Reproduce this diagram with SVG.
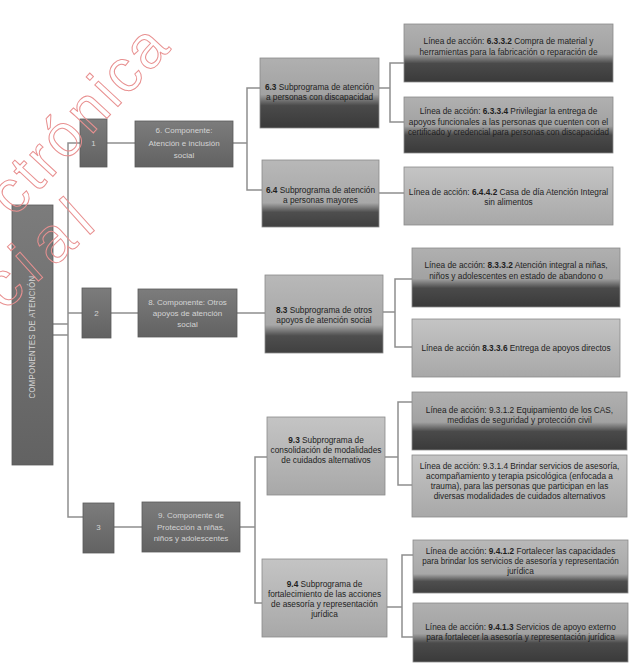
<svg xmlns="http://www.w3.org/2000/svg" width="630" height="664" viewBox="0 0 630 664">
<style>
  .conn { fill: none; stroke: #8e8e8e; stroke-width: 1.5; }
  .bx { stroke: #8a8a8a; stroke-width: 0.8; }
  .sq { fill: url(#gGray); stroke: #5a5a5a; stroke-width: 0.8; }
  .t { font-family: "Liberation Sans", Arial, sans-serif; font-size: 9.2px; fill: #1e1e1e; text-anchor: middle; }
  .tl { font-family: "Liberation Sans", Arial, sans-serif; font-size: 8px; fill: #d4d4d4; text-anchor: middle; }
  .b { font-weight: bold; }
  .wm { font-family: "Liberation Sans", Arial, sans-serif; font-size: 60px; fill: none; stroke: #e89090; stroke-width: 1; }
</style>
<defs>
  <linearGradient id="gGray" x1="0" y1="0" x2="0" y2="1">
    <stop offset="0" stop-color="#7c7c7c"/>
    <stop offset="1" stop-color="#626262"/>
  </linearGradient>
  <linearGradient id="gDark" x1="0" y1="0" x2="0" y2="1">
    <stop offset="0" stop-color="#b0b0b0"/>
    <stop offset="0.52" stop-color="#a2a2a2"/>
    <stop offset="0.68" stop-color="#4a4a4a"/>
    <stop offset="1" stop-color="#3a3a3a"/>
  </linearGradient>
  <linearGradient id="gDark2" x1="0" y1="0" x2="0" y2="1">
    <stop offset="0" stop-color="#b8b8b8"/>
    <stop offset="0.64" stop-color="#a8a8a8"/>
    <stop offset="0.78" stop-color="#4e4e4e"/>
    <stop offset="1" stop-color="#404040"/>
  </linearGradient>
  <linearGradient id="gLight" x1="0" y1="0" x2="0" y2="1">
    <stop offset="0" stop-color="#c4c4c4"/>
    <stop offset="1" stop-color="#a8a8a8"/>
  </linearGradient>
</defs>

<g id="connectors">
  <path class="conn" d="M80,143 H68 V517 H83"/>
  <path class="conn" d="M53,324 H68 M53,335 H68 M68,313 H82"/>
  <path class="conn" d="M107,143 H135"/>
  <path class="conn" d="M233,143 H247"/>
  <path class="conn" d="M260,88 H247 V190 H262"/>
  <path class="conn" d="M379,88 H390"/>
  <path class="conn" d="M404,63 H390 V122 H404"/>
  <path class="conn" d="M379,193 H404"/>
  <path class="conn" d="M111,313 H138"/>
  <path class="conn" d="M237,313 H265"/>
  <path class="conn" d="M383,312 H395"/>
  <path class="conn" d="M412,279 H395 V347 H412"/>
  <path class="conn" d="M114,527 H142"/>
  <path class="conn" d="M240,527 H255"/>
  <path class="conn" d="M267,457 H255 V603 H262"/>
  <path class="conn" d="M385,457 H398"/>
  <path class="conn" d="M412,402 H398 V485 H412"/>
  <path class="conn" d="M387,607 H402"/>
  <path class="conn" d="M413,555 H402 V637 H413"/>
</g>

<g id="root">
  <rect class="sq" x="12" y="205" width="41" height="260"/>
  <text class="tl" transform="translate(35,337) rotate(-90) scale(0.85,1)" style="font-size:9px;letter-spacing:0.5px">COMPONENTES DE ATENCIÓN</text>
</g>

<g id="n1">
  <rect class="sq" x="80" y="119" width="27" height="48"/>
  <text class="tl" x="93.5" y="146">1</text>
</g>
<g id="c6">
  <rect class="sq" x="135" y="121" width="98" height="46"/>
  <text class="tl" x="184" y="133">6. Componente:</text>
  <text class="tl" x="184" y="146">Atención e inclusión</text>
  <text class="tl" x="184" y="158">social</text>
</g>
<g id="n2">
  <rect class="sq" x="82" y="288" width="29" height="50"/>
  <text class="tl" x="96.5" y="316">2</text>
</g>
<g id="c8">
  <rect class="sq" x="138" y="289" width="99" height="48"/>
  <text class="tl" x="187.5" y="305">8. Componente: Otros</text>
  <text class="tl" x="187.5" y="316">apoyos de atención</text>
  <text class="tl" x="187.5" y="327">social</text>
</g>
<g id="n3">
  <rect class="sq" x="83" y="503" width="31" height="50"/>
  <text class="tl" x="98.5" y="530">3</text>
</g>
<g id="c9">
  <rect class="sq" x="142" y="502" width="98" height="50"/>
  <text class="tl" x="191" y="518">9. Componente de</text>
  <text class="tl" x="191" y="530">Protección a niñas,</text>
  <text class="tl" x="191" y="541">niños y adolescentes</text>
</g>

<g id="s63">
  <rect class="bx" x="260" y="58" width="119" height="70" fill="url(#gDark)"/>
  <text class="t" transform="translate(319.5,90) scale(0.9,1)"><tspan class="b">6.3</tspan> Subprograma de atención</text>
  <text class="t" transform="translate(319.5,100) scale(0.9,1)">a personas con discapacidad</text>
</g>
<g id="s64">
  <rect class="bx" x="262" y="160" width="117" height="67" fill="url(#gDark2)"/>
  <text class="t" transform="translate(320.5,193) scale(0.9,1)"><tspan class="b">6.4</tspan> Subprograma de atención</text>
  <text class="t" transform="translate(320.5,203) scale(0.9,1)">a personas mayores</text>
</g>
<g id="s83">
  <rect class="bx" x="265" y="275" width="118" height="78" fill="url(#gDark2)"/>
  <text class="t" transform="translate(324,313) scale(0.9,1)"><tspan class="b">8.3</tspan> Subprograma de otros</text>
  <text class="t" transform="translate(324,323) scale(0.9,1)">apoyos de atención social</text>
</g>
<g id="s93">
  <rect class="bx" x="267" y="417" width="118" height="78" fill="url(#gLight)"/>
  <text class="t" transform="translate(326,443) scale(0.9,1)"><tspan class="b">9.3</tspan> Subprograma de</text>
  <text class="t" transform="translate(326,453) scale(0.9,1)">consolidación de modalidades</text>
  <text class="t" transform="translate(326,463) scale(0.9,1)">de cuidados alternativos</text>
</g>
<g id="s94">
  <rect class="bx" x="262" y="559" width="125" height="78" fill="url(#gLight)"/>
  <text class="t" transform="translate(324.5,587) scale(0.9,1)"><tspan class="b">9.4</tspan> Subprograma de</text>
  <text class="t" transform="translate(324.5,597) scale(0.9,1)">fortalecimiento de las acciones</text>
  <text class="t" transform="translate(324.5,607) scale(0.9,1)">de asesoría y representación</text>
  <text class="t" transform="translate(324.5,617) scale(0.9,1)">jurídica</text>
</g>

<g id="l6332">
  <rect class="bx" x="404" y="24" width="209" height="58" fill="url(#gDark)"/>
  <text class="t" transform="translate(508.5,44) scale(0.9,1)">Línea de acción:  <tspan class="b">6.3.3.2</tspan> Compra de material y</text>
  <text class="t" transform="translate(508.5,55) scale(0.9,1)">herramientas para la fabricación o reparación de</text>
</g>
<g id="l6334">
  <rect class="bx" x="404" y="97" width="209" height="56" fill="url(#gDark)"/>
  <text class="t" transform="translate(508.5,114) scale(0.9,1)">Línea de acción:  <tspan class="b">6.3.3.4</tspan> Privilegiar la entrega de</text>
  <text class="t" transform="translate(508.5,124.5) scale(0.9,1)">apoyos funcionales a las personas que cuenten con el</text>
  <text class="t" transform="translate(508.5,135) scale(0.88,1)">certificado y credencial para personas con discapacidad</text>
</g>
<g id="l6442">
  <rect class="bx" x="404" y="167" width="209" height="58" fill="url(#gLight)"/>
  <text class="t" transform="translate(508.5,195) scale(0.9,1)">Línea de acción:  <tspan class="b">6.4.4.2</tspan> Casa de día Atención Integral</text>
  <text class="t" transform="translate(508.5,205) scale(0.9,1)">sin alimentos</text>
</g>
<g id="l8332">
  <rect class="bx" x="412" y="248" width="208" height="59" fill="url(#gDark)"/>
  <text class="t" transform="translate(516,268) scale(0.9,1)">Línea de acción:  <tspan class="b">8.3.3.2</tspan> Atención integral a niñas,</text>
  <text class="t" transform="translate(516,278.5) scale(0.9,1)">niños y adolescentes en estado de abandono o</text>
</g>
<g id="l8336">
  <rect class="bx" x="412" y="319" width="208" height="58" fill="url(#gLight)"/>
  <text class="t" transform="translate(516,351) scale(0.9,1)">Línea de acción  <tspan class="b">8.3.3.6</tspan> Entrega de apoyos directos</text>
</g>
<g id="l9312">
  <rect class="bx" x="412" y="392" width="215" height="58" fill="url(#gDark)"/>
  <text class="t" transform="translate(519.5,413) scale(0.9,1)">Línea de acción: 9.3.1.2 Equipamiento de los CAS,</text>
  <text class="t" transform="translate(519.5,423) scale(0.9,1)">medidas de seguridad y protección civil</text>
</g>
<g id="l9314">
  <rect class="bx" x="412" y="455" width="215" height="62" fill="url(#gLight)"/>
  <text class="t" transform="translate(519.5,469) scale(0.9,1)">Línea de acción: 9.3.1.4 Brindar servicios de asesoría,</text>
  <text class="t" transform="translate(519.5,479) scale(0.9,1)">acompañamiento y terapia psicológica (enfocada a</text>
  <text class="t" transform="translate(519.5,489) scale(0.9,1)">trauma), para las personas que participan en las</text>
  <text class="t" transform="translate(519.5,499) scale(0.9,1)">diversas modalidades de cuidados alternativos</text>
</g>
<g id="l9412">
  <rect class="bx" x="413" y="540" width="215" height="53" fill="url(#gDark2)"/>
  <text class="t" transform="translate(520.5,554) scale(0.9,1)">Línea de acción: <tspan class="b">9.4.1.2</tspan> Fortalecer las capacidades</text>
  <text class="t" transform="translate(520.5,564) scale(0.88,1)">para brindar los servicios de asesoría y representación</text>
  <text class="t" transform="translate(520.5,574) scale(0.9,1)">jurídica</text>
</g>
<g id="l9413">
  <rect class="bx" x="413" y="603" width="215" height="59" fill="url(#gDark)"/>
  <text class="t" transform="translate(520.5,630) scale(0.9,1)">Línea de acción: <tspan class="b">9.4.1.3</tspan> Servicios de apoyo externo</text>
  <text class="t" transform="translate(520.5,640) scale(0.9,1)">para fortalecer la asesoría y representación jurídica</text>
</g>

<g id="watermark">
  <text class="wm" transform="translate(14,218) rotate(-47)" style="letter-spacing:3px">ctrónica</text>
  <text class="wm" transform="translate(4,312) rotate(-42)" style="font-size:64px;letter-spacing:10px">cial</text>
</g>
</svg>
